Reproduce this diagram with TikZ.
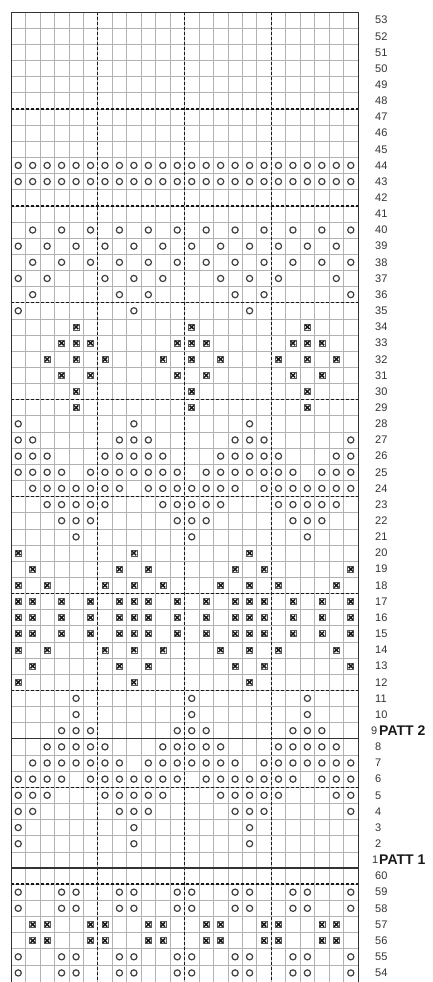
\documentclass[tikz,border=0pt]{standalone}
\usepackage{fontspec}
\setmainfont{Liberation Sans}
\begin{document}
\begin{tikzpicture}[x=1pt,y=-1pt,
  gridline/.style={black!30, line width=0.6pt},
  heavydash/.style={black!90, line width=1.4pt, dash pattern=on 2.8pt off 2.2pt},
  heavysolid/.style={black!80, line width=1.1pt},
  border/.style={black!80, line width=0.9pt},
  purl/.style={black!75, line width=1.2pt},
  cross/.style={black!90, line width=1.5pt},
  crossbox/.style={black!65, line width=0.6pt},
  rowlab/.style={anchor=west, inner sep=0pt, font=\fontsize{11}{12}\selectfont, text=black!80},
  patt/.style={anchor=west, inner sep=0pt, font=\fontsize{14}{15}\selectfont\bfseries, text=black!90}
]
\useasboundingbox (0,0) rectangle (432,982);
\def\gl{11}\def\gr{358}\def\cw{14.4583}\def\gt{12}\def\rh{16.15}\def\gb{982}

% thin grid
\foreach \k in {1,...,23} \draw[gridline] ({\gl+\k*\cw},\gt) -- ({\gl+\k*\cw},\gb);
\foreach \k in {1,...,59} \draw[gridline] (\gl,{\gt+\k*\rh}) -- (\gr,{\gt+\k*\rh});

% heavy dashed rows
\foreach \k in {6,12,18,24,30,36,42,48,54} \draw[heavydash] (\gl,{\gt+\k*\rh}) -- (\gr,{\gt+\k*\rh});
% heavy dashed columns
\foreach \k in {6,12,18} \draw[heavydash] ({\gl+\k*\cw},\gt) -- ({\gl+\k*\cw},\gb);
% solid pattern separators
\foreach \k in {45,53} \draw[heavysolid] (\gl,{\gt+\k*\rh}) -- (\gr,{\gt+\k*\rh});
% border
\draw[border] (\gl,\gb) -- (\gl,\gt) -- (\gr,\gt) -- (\gr,\gb);

% purl circles
\foreach \r/\cs in {
  44/{1,...,24}, 43/{1,...,24},
  40/{2,4,...,24}, 39/{1,3,...,23}, 38/{2,4,...,24},
  37/{1,3,7,9,11,15,17,19,23}, 36/{2,8,10,16,18,24},
  35/{1,9,17}, 28/{1,9,17},
  27/{1,2,8,9,10,16,17,18,24},
  26/{1,2,3,7,8,9,10,11,15,16,17,18,19,23,24},
  25/{1,2,3,4,6,7,8,9,10,11,12,14,15,16,17,18,19,20,22,23,24},
  24/{2,3,4,5,6,7,8,10,11,12,13,14,15,16,18,19,20,21,22,23,24},
  23/{3,4,5,6,7,11,12,13,14,15,19,20,21,22,23},
  22/{4,5,6,12,13,14,20,21,22},
  21/{5,13,21}, 11/{5,13,21}, 10/{5,13,21},
  9/{4,5,6,12,13,14,20,21,22},
  8/{3,4,5,6,7,11,12,13,14,15,19,20,21,22,23},
  7/{2,3,4,5,6,7,8,10,11,12,13,14,15,16,18,19,20,21,22,23,24},
  6/{1,2,3,4,6,7,8,9,10,11,12,14,15,16,17,18,19,20,22,23,24},
  5/{1,2,3,7,8,9,10,11,15,16,17,18,19,23,24},
  4/{1,2,8,9,10,16,17,18,24},
  3/{1,9,17}, 2/{1,9,17},
  59/{1,4,5,8,9,12,13,16,17,20,21,24}, 58/{1,4,5,8,9,12,13,16,17,20,21,24},
  55/{1,4,5,8,9,12,13,16,17,20,21,24}, 54/{1,4,5,8,9,12,13,16,17,20,21,24}} {
  \pgfmathtruncatemacro\ri{\r<54 ? 53-\r : 113-\r}
  \foreach \c in \cs {
    \draw[purl] ({\gl+(\c-0.5)*\cw},{\gt+(\ri+0.5)*\rh}) circle[radius=3.1pt];
  }
}

% crosses
\foreach \r/\cs in {
  34/{5,13,21}, 33/{4,5,6,12,13,14,20,21,22},
  32/{3,5,7,11,13,15,19,21,23}, 31/{4,6,12,14,20,22},
  30/{5,13,21}, 29/{5,13,21},
  20/{1,9,17}, 19/{2,8,10,16,18,24},
  18/{1,3,7,9,11,15,17,19,23},
  17/{1,2,4,6,8,9,10,12,14,16,17,18,20,22,24},
  16/{1,2,4,6,8,9,10,12,14,16,17,18,20,22,24},
  15/{1,2,4,6,8,9,10,12,14,16,17,18,20,22,24},
  14/{1,3,7,9,11,15,17,19,23},
  13/{2,8,10,16,18,24}, 12/{1,9,17},
  57/{2,3,6,7,10,11,14,15,18,19,22,23},
  56/{2,3,6,7,10,11,14,15,18,19,22,23}} {
  \pgfmathtruncatemacro\ri{\r<54 ? 53-\r : 113-\r}
  \foreach \c in \cs {
    \pgfmathsetmacro\cx{\gl+(\c-0.5)*\cw}
    \pgfmathsetmacro\cy{\gt+(\ri+0.5)*\rh}
    \draw[crossbox] (\cx-3,\cy-3) rectangle (\cx+3,\cy+3);
    \draw[cross] (\cx-2.2,\cy-2.2) -- (\cx+2.2,\cy+2.2) (\cx-2.2,\cy+2.2) -- (\cx+2.2,\cy-2.2);
  }
}

% row labels
\foreach \r in {2,...,8,10,11,...,60} {
  \pgfmathtruncatemacro\ri{\r<54 ? 53-\r : 113-\r}
  \node[rowlab] (lab\r) at (375,{\gt+(\ri+0.5)*\rh}) {\r};
}
\node[rowlab] (lab9) at (371,{\gt+44.5*\rh}) {9};
\node[rowlab] (lab1) at (372,{\gt+52.5*\rh}) {1};
\node[patt] (patt2) at (379,{\gt+44.5*\rh}) {PATT 2};
\node[patt] (patt1) at (379,{\gt+52.5*\rh}) {PATT 1};
\end{tikzpicture}
\end{document}
